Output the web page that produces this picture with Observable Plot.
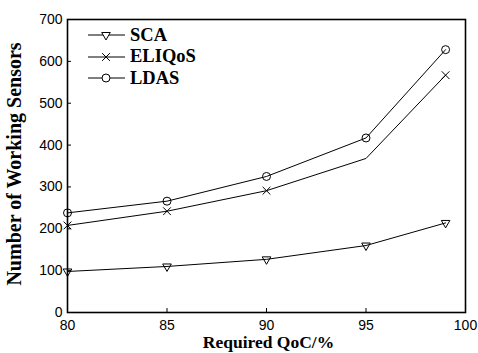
<!DOCTYPE html>
<html><head><meta charset="utf-8">
<script src="https://cdn.jsdelivr.net/npm/d3@7"></script>
<script src="https://cdn.jsdelivr.net/npm/@observablehq/plot@0.6"></script>
<style>
body{margin:0;background:#fff}
#wrap{position:relative;width:478px;height:353px}
#legend{position:absolute;left:86px;top:24.5px}
.item{display:flex;align-items:center;height:21.5px}
.item span{font-family:"Liberation Serif",serif;font-weight:bold;font-size:18.5px;margin-left:4px}
</style></head><body><div id="wrap"></div>
<script>
const qoc = [80, 85, 90, 95, 99];
const sca = [98, 110, 127, 160, 214];
const eliqos = [208, 242, 291, 368, 567];
const ldas = [238, 266, 325, 417, 628];
const eliqosMarked = [true, true, true, false, true];
const seriesNames = ["SCA", "ELIQoS", "LDAS"];
const xTicks = [80, 85, 90, 95, 100];
const yTicks = [0, 100, 200, 300, 400, 500, 600, 700];
const xLabel = "Required QoC/%";
const yLabel = "Number of Working Sensors";

const symbolOf = {SCA: "triangle", ELIQoS: "times", LDAS: "circle"};
const rOf = {SCA: 3.2, ELIQoS: 3.6, LDAS: 4};
const rotOf = {SCA: 180, ELIQoS: 0, LDAS: 0};
const rows = [];
[sca, eliqos, ldas].forEach((vals, i) => vals.forEach((v, j) => rows.push({
  series: seriesNames[i], x: qoc[j], y: v,
  marked: i === 1 ? eliqosMarked[j] : true
})));

const font = "Liberation Sans, Arial, sans-serif";
const chart = Plot.plot({
  width: 478, height: 353,
  marginLeft: 67, marginRight: 13, marginTop: 19, marginBottom: 41,
  style: {fontFamily: font, fontSize: "14px", color: "#000", background: "#fff"},
  x: {domain: [80, 100], ticks: xTicks, label: null},
  y: {domain: [0, 700], ticks: yTicks, label: null},
  marks: [
    Plot.axisX({ticks: xTicks, tickSize: -4, tickPadding: 12, fontSize: 14, label: null}),
    Plot.axisY({ticks: yTicks, tickSize: -4, tickPadding: 9, fontSize: 14, label: null}),
    Plot.line(rows, {x: "x", y: "y", z: "series", stroke: "#000", strokeWidth: 1}),
    ...seriesNames.map(s => Plot.dot(rows.filter(d => d.series === s && d.marked), {
      x: "x", y: "y", symbol: () => symbolOf[s], r: rOf[s], rotate: rotOf[s],
      stroke: "#000", fill: "none", strokeWidth: 1
    })),
    Plot.frame({stroke: "#000", strokeWidth: 1.6}),
    Plot.text([yLabel], {text: d => d, frameAnchor: "left", textAnchor: "middle", dx: -53, dy: -2, rotate: -90,
      fontFamily: "Liberation Serif, serif", fontWeight: "bold", fontSize: 20}),
    Plot.text([xLabel], {text: d => d, frameAnchor: "bottom", lineAnchor: "middle", dx: 2, dy: 30,
      fontFamily: "Liberation Serif, serif", fontWeight: "bold", fontSize: 17.5})
  ]
});
const wrap = document.getElementById("wrap");
wrap.appendChild(chart);

// legend
const legend = document.createElement("div");
legend.id = "legend";
seriesNames.forEach(s => {
  const item = document.createElement("div");
  item.className = "item";
  const sym = {triangle: d3.symbolTriangle, times: d3.symbolTimes, circle: d3.symbolCircle}[symbolOf[s]];
  const path = d3.symbol(sym, Math.PI * rOf[s] * rOf[s])();
  item.innerHTML = `<svg width="40" height="12"><line x1="2" x2="39" y1="6" y2="6" stroke="#000"/><path d="${path}" transform="translate(20,6) rotate(${rotOf[s]})" fill="white" stroke="#000"/></svg><span>${s}</span>`;
  legend.appendChild(item);
});
wrap.appendChild(legend);
</script></body></html>
